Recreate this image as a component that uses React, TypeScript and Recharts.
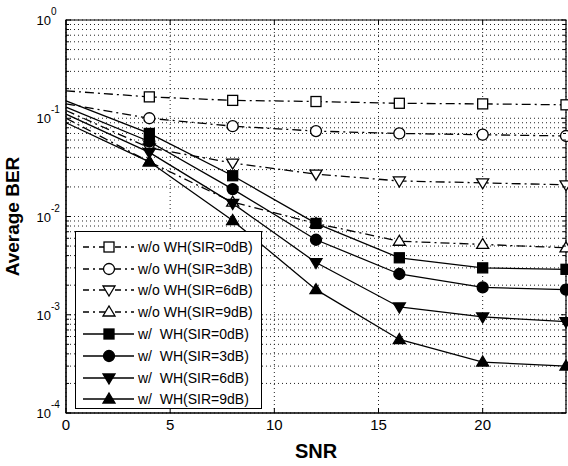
import React from "react";
import {
  LineChart,
  Line,
  XAxis,
  YAxis,
  CartesianGrid,
  Legend,
  ReferenceArea,
} from "recharts";

// SNR points (dB)
const snr = [0, 4, 8, 12, 16, 20, 24];

// Average BER without Walsh-Hadamard
const woSir0 = [0.19, 0.165, 0.152, 0.148, 0.142, 0.14, 0.137];
const woSir3 = [0.14, 0.1, 0.083, 0.074, 0.07, 0.068, 0.066];
const woSir6 = [0.12, 0.05, 0.035, 0.027, 0.023, 0.022, 0.021];
const woSir9 = [0.1, 0.036, 0.014, 0.0085, 0.0056, 0.0052, 0.0048];

// Average BER with Walsh-Hadamard
const wSir0 = [0.15, 0.07, 0.026, 0.0085, 0.0038, 0.003, 0.0029];
const wSir3 = [0.13, 0.058, 0.019, 0.0058, 0.0026, 0.0019, 0.0018];
const wSir6 = [0.11, 0.045, 0.0136, 0.0034, 0.0012, 0.00095, 0.00085];
const wSir9 = [0.09, 0.036, 0.0091, 0.0018, 0.00056, 0.00033, 0.0003];

const xTicks = [0, 5, 10, 15, 20];
const decades = [1e-4, 1e-3, 1e-2, 1e-1];
const minorSteps = [1, 2, 3, 4, 5, 6, 7, 8, 9];
const yTicks = [...decades.flatMap((d) => minorSteps.map((m) => d * m)), 1];

type Shape = "square" | "circle" | "down" | "up";

const series: {
  key: string;
  name: string;
  values: number[];
  shape: Shape;
  filled: boolean;
}[] = [
  { key: "woSir0", name: "w/o WH(SIR=0dB)", values: woSir0, shape: "square", filled: false },
  { key: "woSir3", name: "w/o WH(SIR=3dB)", values: woSir3, shape: "circle", filled: false },
  { key: "woSir6", name: "w/o WH(SIR=6dB)", values: woSir6, shape: "down", filled: false },
  { key: "woSir9", name: "w/o WH(SIR=9dB)", values: woSir9, shape: "up", filled: false },
  { key: "wSir0", name: "w/  WH(SIR=0dB)", values: wSir0, shape: "square", filled: true },
  { key: "wSir3", name: "w/  WH(SIR=3dB)", values: wSir3, shape: "circle", filled: true },
  { key: "wSir6", name: "w/  WH(SIR=6dB)", values: wSir6, shape: "down", filled: true },
  { key: "wSir9", name: "w/  WH(SIR=9dB)", values: wSir9, shape: "up", filled: true },
];

const data = snr.map((s, i) => {
  const row: Record<string, number> = { snr: s };
  series.forEach((sr) => (row[sr.key] = sr.values[i]));
  return row;
});

const FONT = "'Liberation Sans', Arial, sans-serif";
const DASH_DOT = "9 4 2 4";

const Marker = ({ cx, cy, shape, filled }: { cx: number; cy: number; shape: Shape; filled: boolean }) => {
  const fill = filled ? "#000" : "#fff";
  const common = { fill, stroke: "#000", strokeWidth: 1.3 };
  if (shape === "square") return <rect x={cx - 5} y={cy - 5} width={10} height={10} {...common} />;
  if (shape === "circle") return <circle cx={cx} cy={cy} r={5.5} {...common} />;
  if (shape === "down")
    return <polygon points={`${cx - 6},${cy - 4} ${cx + 6},${cy - 4} ${cx},${cy + 6}`} {...common} />;
  return <polygon points={`${cx - 6},${cy + 4} ${cx + 6},${cy + 4} ${cx},${cy - 6}`} {...common} />;
};

// no marker on the first (SNR = 0) point, as in the original plot
const makeDot = (shape: Shape, filled: boolean) => (props: any) => {
  const { cx, cy, index } = props;
  if (cx == null || cy == null || index === 0) return <g key={index} />;
  return (
    <g key={index}>
      <Marker cx={cx} cy={cy} shape={shape} filled={filled} />
    </g>
  );
};

const XTick = ({ x, y, payload }: any) => (
  <g>
    <line x1={x} x2={x} y1={y} y2={y - 5} stroke="#000" />
    <text x={x} y={y + 17} textAnchor="middle" fontSize={15} fontFamily={FONT} fill="#000">
      {payload.value}
    </text>
  </g>
);

const TopTick = ({ x, y }: any) => <line x1={x} x2={x} y1={y} y2={y + 5} stroke="#000" />;

const isDecade = (v: number) => Math.abs(Math.log10(v) - Math.round(Math.log10(v))) < 1e-6;

const YTick = ({ x, y, payload }: any) => {
  const v = payload.value as number;
  const major = isDecade(v);
  const exp = Math.round(Math.log10(v));
  return (
    <g>
      <line x1={x} x2={x + (major ? 5 : 3)} y1={y} y2={y} stroke="#000" />
      {major && (
        <>
          <text x={x - 15} y={y + 5} textAnchor="end" fontSize={13} fontFamily={FONT} fill="#000">
            10
          </text>
          <text x={x - 15} y={y - 5} textAnchor="start" fontSize={10} fontFamily={FONT} fill="#000">
            {exp}
          </text>
        </>
      )}
    </g>
  );
};

const RightTick = ({ x, y, payload }: any) => (
  <line x1={x} x2={x - (isDecade(payload.value) ? 5 : 3)} y1={y} y2={y} stroke="#000" />
);

const LegendBox = () => (
  <div
    style={{
      width: 187,
      height: 178,
      border: "1px solid #000",
      background: "#fff",
      boxSizing: "border-box",
      paddingTop: 4,
      fontFamily: FONT,
      fontSize: 14,
      color: "#000",
    }}
  >
    {series.map((s) => (
      <div key={s.key} style={{ display: "flex", alignItems: "center", height: 21.8 }}>
        <svg width={62} height={18} style={{ flex: "none" }}>
          <line
            x1={7}
            x2={58}
            y1={9}
            y2={9}
            stroke="#000"
            strokeWidth={1.3}
            strokeDasharray={s.filled ? undefined : "6 4 2 4"}
          />
          <Marker cx={33} cy={9} shape={s.shape} filled={s.filled} />
        </svg>
        <span style={{ whiteSpace: "pre" }}>{s.name}</span>
      </div>
    ))}
  </div>
);

export default function App() {
  return (
    <div style={{ position: "absolute", left: 0, top: 0, background: "#fff" }}>
      <LineChart
        width={568}
        height={466}
        data={data}
        margin={{ top: 19, right: 1, bottom: 3, left: 6 }}
      >
        <CartesianGrid stroke="#222" strokeDasharray="1 3" strokeWidth={1} />
        <XAxis
          dataKey="snr"
          type="number"
          domain={[0, 24]}
          ticks={xTicks}
          height={50}
          tickSize={0}
          tickMargin={0}
          tick={<XTick />}
          tickLine={false}
          axisLine={{ stroke: "#000" }}
          label={{
            value: "SNR",
            position: "insideBottom",
            offset: 5,
            fontSize: 20,
            fontWeight: "bold",
            fontFamily: FONT,
            fill: "#000",
          }}
        />
        <XAxis
          xAxisId="top"
          orientation="top"
          dataKey="snr"
          type="number"
          domain={[0, 24]}
          ticks={xTicks}
          height={1}
          tickSize={0}
          tickMargin={0}
          tick={<TopTick />}
          tickLine={false}
          axisLine={false}
        />
        <YAxis
          scale="log"
          type="number"
          domain={[1e-4, 1]}
          ticks={yTicks}
          allowDataOverflow
          width={60}
          tickSize={0}
          tickMargin={0}
          tick={<YTick />}
          tickLine={false}
          interval={0}
          axisLine={{ stroke: "#000" }}
          label={{
            value: "Average BER",
            angle: -90,
            position: "insideLeft",
            offset: 6,
            style: { textAnchor: "middle" },
            fontSize: 19,
            fontWeight: "bold",
            fontFamily: FONT,
            fill: "#000",
          }}
        />
        <YAxis
          yAxisId="right"
          orientation="right"
          scale="log"
          type="number"
          domain={[1e-4, 1]}
          ticks={yTicks}
          allowDataOverflow
          width={1}
          tickSize={0}
          tickMargin={0}
          tick={<RightTick />}
          tickLine={false}
          interval={0}
          axisLine={false}
        />
        <ReferenceArea x1={0} x2={24} y1={1e-4} y2={1} fill="none" stroke="#000" strokeWidth={1.2} />
        {series.map((s) => (
          <Line
            key={s.key}
            dataKey={s.key}
            name={s.name}
            type="linear"
            stroke="#000"
            strokeWidth={1.3}
            strokeDasharray={s.filled ? undefined : DASH_DOT}
            dot={makeDot(s.shape, s.filled)}
            activeDot={false}
            isAnimationActive={false}
          />
        ))}
        <Legend
          layout="vertical"
          align="center"
          verticalAlign="middle"
          content={<LegendBox />}
          wrapperStyle={{ left: 75, top: 231, width: 187, height: 178 }}
        />
      </LineChart>
    </div>
  );
}
